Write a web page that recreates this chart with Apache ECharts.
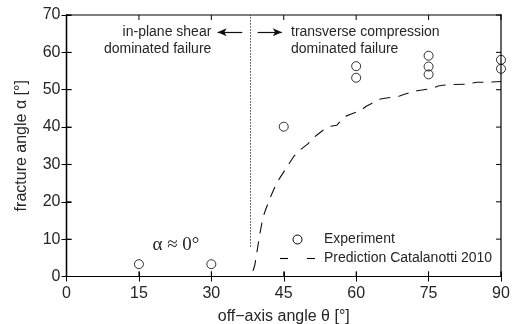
<!DOCTYPE html>
<html>
<head>
<meta charset="utf-8">
<script src="https://cdn.jsdelivr.net/npm/echarts@6/dist/echarts.min.js"></script>
<style>
  html, body { margin: 0; padding: 0; background: #fff; }
  #chart { width: 515px; height: 324px; }
</style>
</head>
<body>
<div id="chart"></div>
<script>
// Axis ticks
const xTicks = [0, 15, 30, 45, 60, 75, 90];
const yTicks = [0, 10, 20, 30, 40, 50, 60, 70];

// Measured fracture angles [deg] per off-axis angle [deg]
const experimentTheta = [15, 30, 45, 60, 60, 75, 75, 75, 90, 90];
const experimentAlpha = [3.3, 3.3, 40.1, 56.3, 53.2, 59.1, 56.2, 54.1, 58.0, 55.6];

// Predicted fracture angle (Catalanotti 2010)
const predictionTheta = [0, 38, 38.5, 39, 39.5, 40, 40.5, 41, 42, 43, 44, 45, 46, 47, 48, 49, 50, 51, 52, 53, 54, 55, 56, 57, 58, 59, 60, 61, 62, 63, 64, 65, 66, 67, 68, 69, 70, 71, 72, 73, 74, 75, 76, 77, 78, 80, 83, 85, 87, 90];
const predictionAlpha = [0, 0, 1, 3, 7, 11, 14.5, 17, 20.5, 23.5, 26, 28, 30, 32, 33.5, 34.5, 35.5, 37, 38, 39, 40, 40.3, 40.5, 42, 43, 43.5, 44, 44.5, 45.5, 46.2, 46.8, 47.5, 47.7, 47.9, 48.1, 48.3, 48.8, 49.2, 49.6, 49.8, 50, 50.2, 50.5, 51, 51.2, 51.4, 51.5, 52, 52, 52.2];

// Boundary between failure modes
const boundaryTheta = 38;
const boundaryAlphaRange = [8, 70];

const TXT = '#262626';
const FONT = 'Liberation Sans, Arial, sans-serif';

const chart = echarts.init(document.getElementById('chart'), null, { renderer: 'canvas' });

function makeAxis(extra) {
  return Object.assign({
    type: 'value',
    axisLine: { show: true, lineStyle: { color: '#000', width: 1.2 } },
    axisTick: { show: true, inside: true, length: 5, lineStyle: { color: '#000' } },
    splitLine: { show: false }
  }, extra);
}

const option = {
  animation: false,
  backgroundColor: '#fff',
  grid: {
    left: 66.5, right: 14, top: 15, bottom: 47.5,
    containLabel: false, outerBoundsMode: 'none'
  },
  xAxis: [
    makeAxis({
      min: xTicks[0], max: xTicks[xTicks.length - 1], interval: 15,
      position: 'bottom',
      name: 'off\u2212axis angle \u03b8 [\u00b0]',
      nameLocation: 'middle', nameGap: 32,
      nameTextStyle: { color: TXT, fontSize: 16, fontFamily: FONT },
      axisLabel: { color: TXT, fontSize: 16, fontFamily: FONT, margin: 9 }
    }),
    makeAxis({
      min: xTicks[0], max: xTicks[xTicks.length - 1], interval: 15,
      position: 'top', axisLabel: { show: false }
    })
  ],
  yAxis: [
    makeAxis({
      min: yTicks[0], max: yTicks[yTicks.length - 1], interval: 10,
      position: 'left',
      name: 'fracture angle \u03b1 [\u00b0]',
      nameLocation: 'middle', nameGap: 37,
      nameTextStyle: { color: TXT, fontSize: 16, fontFamily: FONT },
      axisLabel: { color: TXT, fontSize: 16, fontFamily: FONT, margin: 6 }
    }),
    makeAxis({
      min: yTicks[0], max: yTicks[yTicks.length - 1], interval: 10,
      position: 'right', axisLabel: { show: false }
    })
  ],
  series: [
    {
      name: 'Experiment',
      type: 'scatter',
      symbol: 'circle',
      symbolSize: 9,
      itemStyle: { color: 'none', borderColor: '#000', borderWidth: 1 },
      data: experimentTheta.map((t, i) => [t, experimentAlpha[i]])
    },
    {
      name: 'Prediction Catalanotti 2010',
      type: 'line',
      symbol: 'none',
      showSymbol: false,
      lineStyle: { color: '#111', width: 1.1, type: [11, 8] },
      itemStyle: { color: '#111' },
      data: predictionTheta.map((t, i) => [t, predictionAlpha[i]]),
      markLine: {
        silent: true,
        symbol: ['none', 'none'],
        label: { show: false },
        lineStyle: { color: '#444', width: 1, type: [1.5, 1.5] },
        data: [[
          { coord: [boundaryTheta, boundaryAlphaRange[0]] },
          { coord: [boundaryTheta, boundaryAlphaRange[1]] }
        ]]
      }
    },
    {
      // Arrows pointing away from the failure-mode boundary
      name: 'arrows',
      type: 'line',
      data: [],
      markLine: {
        silent: true,
        symbol: ['none', 'arrow'],
        symbolSize: [6, 9],
        label: { show: false },
        lineStyle: { color: '#111', width: 1.2, type: 'solid' },
        data: [
          [{ coord: [36.4, 65.4] }, { coord: [31.3, 65.4] }],
          [{ coord: [39.6, 65.4] }, { coord: [44.6, 65.4] }]
        ]
      }
    }
  ]
};

chart.setOption(option);

function px(x, y) { return chart.convertToPixel({ xAxisIndex: 0, yAxisIndex: 0 }, [x, y]); }

// Annotation texts placed in data coordinates
const pL1 = px(30.0, 65.4), pL2 = px(30.0, 60.9);
const pR1 = px(46.5, 65.4), pR2 = px(46.5, 60.9);
const pA = px(17.8, 8.5);
const sans = '14px ' + FONT;
const legX = 280, legY1 = 239.5, legY2 = 258.5;

const items = [
  { type: 'text', x: pL1[0], y: pL1[1], style: { text: 'in-plane shear', font: sans, fill: TXT, align: 'right', verticalAlign: 'middle' } },
  { type: 'text', x: pL2[0], y: pL2[1], style: { text: 'dominated failure', font: sans, fill: TXT, align: 'right', verticalAlign: 'middle' } },
  { type: 'text', x: pR1[0], y: pR1[1], style: { text: 'transverse compression', font: sans, fill: TXT, align: 'left', verticalAlign: 'middle' } },
  { type: 'text', x: pR2[0], y: pR2[1], style: { text: 'dominated failure', font: sans, fill: TXT, align: 'left', verticalAlign: 'middle' } },
  { type: 'text', x: pA[0], y: pA[1], style: { text: '\u03b1 \u2248 0\u00b0', font: '19px Liberation Serif, Times New Roman, serif', fill: TXT, align: 'left', verticalAlign: 'middle' } },
  // legend key
  { type: 'circle', shape: { cx: legX + 17.5, cy: legY1, r: 4.5 }, style: { fill: 'none', stroke: '#000', lineWidth: 1 } },
  { type: 'rect', shape: { x: legX, y: legY2 - 0.55, width: 8, height: 1.1 }, style: { fill: '#000' } },
  { type: 'rect', shape: { x: legX + 27, y: legY2 - 0.55, width: 8, height: 1.1 }, style: { fill: '#000' } },
  { type: 'text', x: legX + 44, y: legY1, style: { text: 'Experiment', font: sans, fill: TXT, align: 'left', verticalAlign: 'middle' } },
  { type: 'text', x: legX + 44, y: legY2, style: { text: 'Prediction Catalanotti 2010', font: sans, fill: TXT, align: 'left', verticalAlign: 'middle' } }
];

// Plot box edges and inward ticks as thin filled bars, positioned via the axis scales
const xMin = xTicks[0], xMax = xTicks[xTicks.length - 1];
const yMin = yTicks[0], yMax = yTicks[yTicks.length - 1];
const pLT = px(xMin, yMax), pRB = px(xMax, yMin);
const L = pLT[0], T = pLT[1], R = pRB[0], B = pRB[1];
const TICK = 5, EDGE = 1.2, TW = 1;
function bar(x, y, w, h) {
  return { type: 'rect', z: 50, silent: true, shape: { x: x, y: y, width: w, height: h }, style: { fill: '#000' } };
}
items.push(bar(L - EDGE / 2, T - EDGE / 2, R - L + EDGE, EDGE));
items.push(bar(L - EDGE / 2, B - EDGE / 2, R - L + EDGE, EDGE));
items.push(bar(L - EDGE / 2, T - EDGE / 2, EDGE, B - T + EDGE));
items.push(bar(R - EDGE / 2, T - EDGE / 2, EDGE, B - T + EDGE));
xTicks.forEach(v => {
  const x = px(v, yMin)[0];
  items.push(bar(x - TW / 2, B - TICK, TW, TICK));
  items.push(bar(x - TW / 2, T, TW, TICK));
});
yTicks.forEach(v => {
  const y = px(xMin, v)[1];
  items.push(bar(L, y - TW / 2, TICK, TW));
  items.push(bar(R - TICK, y - TW / 2, TICK, TW));
});

chart.setOption({ graphic: items });
</script>
</body>
</html>
